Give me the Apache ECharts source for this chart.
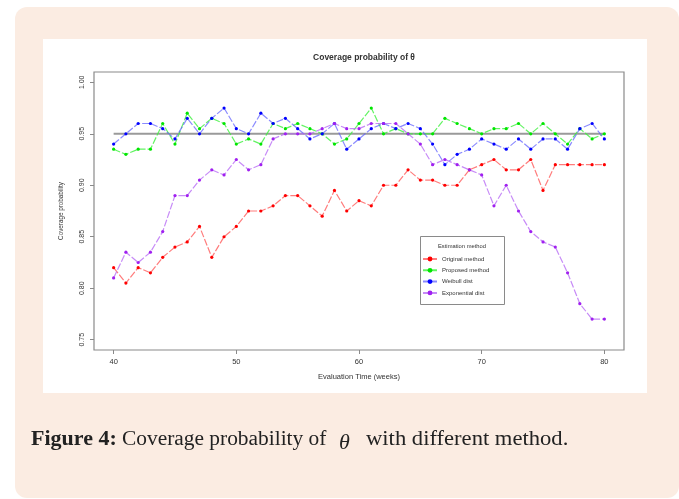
<!DOCTYPE html>
<html>
<head>
<meta charset="utf-8">
<script src="https://cdn.jsdelivr.net/npm/echarts@6/dist/echarts.min.js"></script>
<style>
  html, body { margin: 0; padding: 0; background: #ffffff; }
  #chart { width: 679px; height: 499px; }
</style>
</head>
<body>
<div id="chart"></div>
<script>
// ---- data ----
const weeks = [40,41,42,43,44,45,46,47,48,49,50,51,52,53,54,55,56,57,58,59,60,
               61,62,63,64,65,66,67,68,69,70,71,72,73,74,75,76,77,78,79,80];
const originalMethod = [0.82,0.805,0.82,0.815,0.83,0.84,0.845,0.86,0.83,0.85,0.86,
  0.875,0.875,0.88,0.89,0.89,0.88,0.87,0.895,0.875,0.885,
  0.88,0.90,0.90,0.915,0.905,0.905,0.90,0.90,0.915,0.92,
  0.925,0.915,0.915,0.925,0.895,0.92,0.92,0.92,0.92,0.92];
const proposedMethod = [0.935,0.93,0.935,0.935,0.96,0.94,0.97,0.955,0.965,0.96,0.94,
  0.945,0.94,0.96,0.955,0.96,0.955,0.95,0.94,0.945,0.96,
  0.975,0.95,0.955,0.95,0.95,0.95,0.965,0.96,0.955,0.95,
  0.955,0.955,0.96,0.95,0.96,0.95,0.94,0.955,0.945,0.95];
const weibullDist = [0.94,0.95,0.96,0.96,0.955,0.945,0.965,0.95,0.965,0.975,0.955,
  0.95,0.97,0.96,0.965,0.955,0.945,0.95,0.96,0.935,0.945,
  0.955,0.96,0.955,0.96,0.955,0.94,0.92,0.93,0.935,0.945,
  0.94,0.935,0.945,0.935,0.945,0.945,0.935,0.955,0.96,0.945];
const exponentialDist = [0.81,0.835,0.825,0.835,0.855,0.89,0.89,0.905,0.915,0.91,0.925,
  0.915,0.92,0.945,0.95,0.95,0.95,0.955,0.96,0.955,0.955,
  0.96,0.96,0.96,0.95,0.94,0.92,0.925,0.92,0.915,0.91,
  0.88,0.90,0.875,0.855,0.845,0.84,0.815,0.785,0.77,0.77];
const referenceLevel = 0.95;
const referenceSpan = [40, 80];
const seriesNames = ['Original method','Proposed method','Weibull dist','Exponential dist'];
const xTicks = [40,50,60,70,80];
const yTicks = [0.75,0.80,0.85,0.90,0.95,1.00];
const titleText = 'Coverage probability of \u03b8';
const xName = 'Evaluation Time (weeks)';
const yName = 'Coverage probability';
const legendTitle = 'Estimation method';
const captionLabel = 'Figure 4:';
const captionStart = 'Coverage probability of';
const captionSymbol = '\u03b8';
const captionEnd = 'with different method.';

// ---- build ----
const pairs = vals => weeks.map((w, i) => [w, vals[i]]);
const colors = ['#ff0000', '#00e600', '#0000ff', '#a020f0'];
const lineColors = ['rgba(255,80,80,0.75)', 'rgba(60,240,60,0.8)', 'rgba(90,90,255,0.7)', 'rgba(185,110,245,0.8)'];
const allValues = [originalMethod, proposedMethod, weibullDist, exponentialDist];

const axisFont = 'Liberation Sans, Arial, sans-serif';
const serif = 'Liberation Serif, Times New Roman, serif';

const series = [{
  name: 'ref',
  type: 'line',
  data: referenceSpan.map(w => [w, referenceLevel]),
  symbol: 'none',
  silent: true,
  z: 1,
  lineStyle: { color: '#9a9a9a', width: 2 }
}].concat(allValues.map((vals, k) => ({
  name: seriesNames[k],
  type: 'line',
  data: pairs(vals),
  symbol: 'circle',
  symbolSize: 3.2,
  showSymbol: true,
  z: 2 + k,
  itemStyle: { color: colors[k] },
  lineStyle: { color: lineColors[k], width: 1.2, type: [7, 2] }
})));

const chart = echarts.init(document.getElementById('chart'), null, { renderer: 'canvas' });
chart.setOption({
  animation: false,
  backgroundColor: '#ffffff',
  title: {
    text: titleText,
    left: 359, top: 48,
    textAlign: 'center',
    textStyle: { fontFamily: axisFont, fontSize: 8.5, fontWeight: 'bold', color: '#333' }
  },
  grid: {
    left: 94, top: 72, right: 55, bottom: 149,
    show: true, borderColor: '#8a8a8a', borderWidth: 1.2, backgroundColor: 'transparent'
  },
  xAxis: {
    type: 'value', min: 38.4, max: 81.6,
    name: xName, nameLocation: 'middle', nameGap: 23,
    nameTextStyle: { fontFamily: axisFont, fontSize: 7.5, color: '#333' },
    axisLine: { show: false },
    splitLine: { show: false },
    axisTick: { show: true, customValues: xTicks, length: 4, lineStyle: { color: '#8a8a8a' } },
    axisLabel: { customValues: xTicks, margin: 8, fontFamily: axisFont, fontSize: 7.5, color: '#333' }
  },
  yAxis: {
    type: 'value', min: 0.74, max: 1.01,
    name: yName, nameLocation: 'middle', nameGap: 30,
    nameTextStyle: { fontFamily: axisFont, fontSize: 6.3, color: '#333' },
    axisLine: { show: false },
    splitLine: { show: false },
    axisTick: { show: true, customValues: yTicks, length: 4, lineStyle: { color: '#8a8a8a' } },
    axisLabel: { customValues: yTicks, rotate: 90, margin: 8, fontFamily: axisFont, fontSize: 7, color: '#333',
      formatter: v => v.toFixed(2) }
  },
  legend: {
    data: seriesNames,
    orient: 'vertical',
    left: 422, top: 256,
    itemWidth: 14, itemHeight: 6, itemGap: 5.3,
    padding: 0,
    z: 6,
    textStyle: { fontFamily: axisFont, fontSize: 6, color: '#333' }
  },
  graphic: [
    { type: 'rect', z: -20, shape: { x: 15, y: 7, width: 664, height: 491, r: 12 }, style: { fill: '#fbece2' } },
    { type: 'rect', z: -10, shape: { x: 43, y: 39, width: 604, height: 354 }, style: { fill: '#ffffff' } },
    { type: 'rect', z: 5, shape: { x: 420.5, y: 236.5, width: 84, height: 68 }, style: { fill: '#ffffff', stroke: '#8a8a8a', lineWidth: 1 } },
    { type: 'text', z: 6, x: 462, y: 246, style: { text: legendTitle, fontFamily: axisFont, fontSize: 5.8, fill: '#333', textAlign: 'center', textVerticalAlign: 'middle' } },
    { type: 'text', z: 1, x: 31, y: 440, scaleX: 1.1, style: { text: captionLabel, fontFamily: serif, fontSize: 20, fontWeight: 'bold', fill: '#222', textVerticalAlign: 'middle' } },
    { type: 'text', z: 1, x: 122, y: 440, scaleX: 1.07, style: { text: captionStart, fontFamily: serif, fontSize: 20, fill: '#222', textVerticalAlign: 'middle' } },
    { type: 'text', z: 1, x: 339, y: 443, style: { text: captionSymbol, fontFamily: serif, fontSize: 22, fontStyle: 'italic', fill: '#222', textVerticalAlign: 'middle' } },
    { type: 'text', z: 1, x: 366, y: 440, scaleX: 1.13, style: { text: captionEnd, fontFamily: serif, fontSize: 20, fill: '#222', textVerticalAlign: 'middle' } }
  ],
  series: series
});
</script>
</body>
</html>
